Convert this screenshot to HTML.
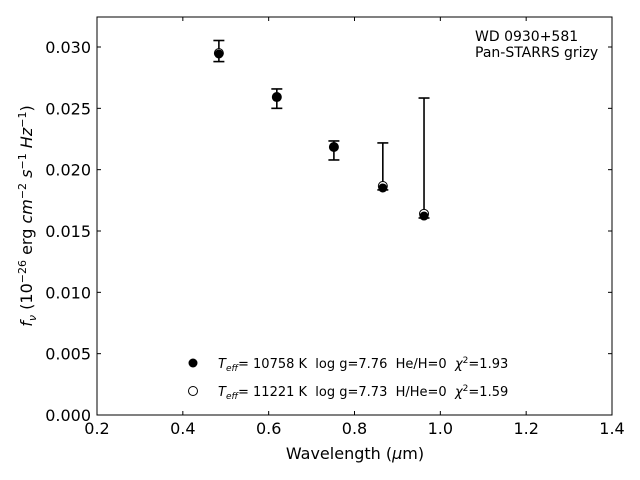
<!DOCTYPE html>
<html><head><meta charset="utf-8"><style>
body{margin:0;background:#fff;}
svg{display:block;font-family:"DejaVu Sans","Liberation Sans",sans-serif;}
text{white-space:pre;}
</style></head><body>
<svg id="chart" width="640" height="480" xmlns="http://www.w3.org/2000/svg">
<rect x="0" y="0" width="640" height="480" fill="#fff"/>
<g id="ticks"></g>
<g id="marks"></g>
<rect x="97" y="17" width="515" height="398" fill="none" stroke="#000" stroke-width="1"/>
<text x="475" y="41" font-size="14">WD 0930+581</text>
<text x="475" y="57" font-size="14">Pan-STARRS grizy</text>
<text x="355" y="459" font-size="16" text-anchor="middle">Wavelength (<tspan font-style="italic">μ</tspan>m)</text>
<text transform="translate(32,216) rotate(-90)" font-size="16" text-anchor="middle"><tspan font-style="italic">f<tspan font-size="11" dy="4">ν</tspan></tspan><tspan dy="-4"> (10</tspan><tspan font-size="11" dy="-6">−26</tspan><tspan dy="6"> erg </tspan><tspan font-style="italic">cm</tspan><tspan font-size="11" dy="-6">−2</tspan><tspan dy="6"> </tspan><tspan font-style="italic">s</tspan><tspan font-size="11" dy="-6">−1</tspan><tspan dy="6"> </tspan><tspan font-style="italic">Hz</tspan><tspan font-size="11" dy="-6">−1</tspan><tspan dy="6">)</tspan></text>
<g>
<circle cx="193" cy="363" r="4.5" fill="#000"/>
<text x="218" y="368" font-size="13"><tspan font-style="italic">T</tspan><tspan font-size="9" dy="3" font-style="italic">eff</tspan><tspan dy="-3">= 10758 K  log g=7.76  He/H=0  </tspan><tspan font-style="italic">χ</tspan><tspan font-size="9" dy="-5">2</tspan><tspan dy="5">=1.93</tspan></text>
<circle cx="193" cy="391" r="4.5" fill="#fff" stroke="#000"/>
<text x="218" y="396" font-size="13"><tspan font-style="italic">T</tspan><tspan font-size="9" dy="3" font-style="italic">eff</tspan><tspan dy="-3">= 11221 K  log g=7.73  H/He=0  </tspan><tspan font-style="italic">χ</tspan><tspan font-size="9" dy="-5">2</tspan><tspan dy="5">=1.59</tspan></text>
</g>
</svg>
<script>
const wavelengths=[0.484,0.619,0.752,0.866,0.962];
const fluxObs=[0.02943,0.02592,0.02185,0.01851,0.01622];
const errLow=[0.00062,0.00092,0.00106,0.00016,0.00016];
const errHigh=[0.00110,0.00066,0.00049,0.00367,0.00962];
const fluxModelH=[0.0295,0.02592,0.02185,0.01867,0.0164];
const xTicks=[0.2,0.4,0.6,0.8,1.0,1.2,1.4];
const yTicks=[0,0.005,0.010,0.015,0.020,0.025,0.030];
const xTickLabels=["0.2","0.4","0.6","0.8","1.0","1.2","1.4"];
const yTickLabels=["0.000","0.005","0.010","0.015","0.020","0.025","0.030"];
const NS="http://www.w3.org/2000/svg";
const X=v=>97+(v-0.2)/1.2*515;
const Y=v=>415-v/0.030*368;
function mk(tag,attrs,parent){const e=document.createElementNS(NS,tag);for(const k in attrs)e.setAttribute(k,attrs[k]);parent.appendChild(e);return e;}
const tg=document.getElementById('ticks'),mg=document.getElementById('marks');
xTicks.forEach((t,i)=>{const x=X(t);
 const l=mk('line',{x1:x,x2:x,y1:415,y2:411,stroke:'#000'},tg);
 
 
 const l2=mk('line',{x1:x,x2:x,y1:17,y2:21,stroke:'#000'},tg);
 
 
 const tx=mk('text',{x:x,y:434,'font-size':16,'text-anchor':'middle'},tg);tx.textContent=xTickLabels[i];
 
 });
yTicks.forEach((t,i)=>{const y=Y(t);
 const l=mk('line',{x1:97,x2:101,y1:y,y2:y,stroke:'#000'},tg);
 
 
 const l2=mk('line',{x1:608,x2:612,y1:y,y2:y,stroke:'#000'},tg);
 
 
 const tx=mk('text',{x:91,y:y+6,'font-size':16,'text-anchor':'end'},tg);tx.textContent=yTickLabels[i];
 
 });
wavelengths.forEach((w,i)=>{const x=X(w),y1=Y(fluxObs[i]+errHigh[i]),y2=Y(fluxObs[i]-errLow[i]);
 const g=mk('g',{},mg);
 
 
 mk('line',{x1:x,x2:x,y1:y1,y2:y2,stroke:'#000','stroke-width':1.6},g);
 mk('line',{x1:x-5.5,x2:x+5.5,y1:y1,y2:y1,stroke:'#000','stroke-width':1.6},g);
 mk('line',{x1:x-5.5,x2:x+5.5,y1:y2,y2:y2,stroke:'#000','stroke-width':1.6},g);});
wavelengths.forEach((w,i)=>{
 const c=mk('circle',{cx:X(w),cy:Y(fluxModelH[i]),r:4.5,fill:'#fff',stroke:'#000'},mg);
 
 });
wavelengths.forEach((w,i)=>{
 const c=mk('circle',{cx:X(w),cy:Y(fluxObs[i]),r:4.5,fill:'#000'},mg);
 
 });
</script>
</body></html>
